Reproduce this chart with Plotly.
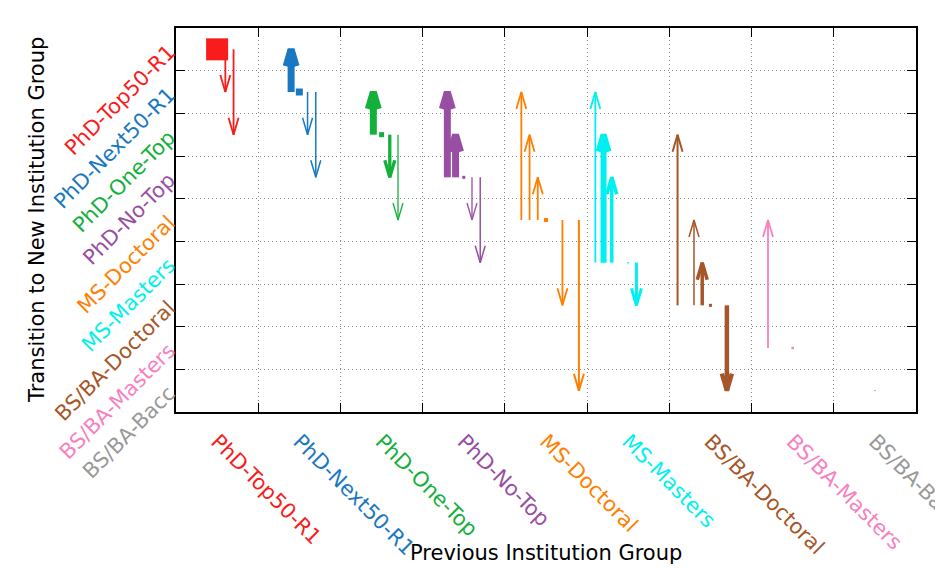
import plotly.graph_objects as go

# ---------------- data ----------------
groups = ["PhD-Top50-R1", "PhD-Next50-R1", "PhD-One-Top", "PhD-No-Top",
          "MS-Doctoral", "MS-Masters", "BS/BA-Doctoral", "BS/BA-Masters", "BS/BA-Bacc"]
group_colors = ["#f81c1c", "#1a78c2", "#14b03c", "#984ea3", "#ff7f00",
                "#00f0f0", "#a65628", "#f781bf", "#999999"]

# transitions: previous group (1-based), new group (1-based), relative flow
prev_group = [1, 1, 1,
              2, 2, 2, 2,
              3, 3, 3, 3,
              4, 4, 4, 4, 4,
              5, 5, 5, 5, 5, 5,
              6, 6, 6, 6, 6,
              7, 7, 7, 7, 7,
              8, 8,
              9]
new_group = [1, 2, 3,
             1, 2, 3, 4,
             2, 3, 4, 5,
             2, 3, 4, 5, 6,
             2, 3, 4, 5, 7, 9,
             2, 3, 4, 6, 7,
             3, 5, 6, 7, 9,
             5, 8,
             9]
flow = [220, 18, 18,
        70, 70, 15, 15,
        70, 50, 33, 13,
        70, 70, 30, 13, 15,
        18, 18, 18, 40, 18, 20,
        18, 60, 35, 15, 30,
        20, 15, 35, 30, 45,
        18, 25,
        12]

# ---------------- layout geometry ----------------
PAGE_OFF = 8  # default body margin of the html page
W, H = 943 - PAGE_OFF, 568 - PAGE_OFF
ML, MT = 176 - PAGE_OFF, 28 - PAGE_OFF
MR, MB = 27, 156
n = len(groups)
plot_w = W - ML - MR
plot_h = H - MT - MB
px_x = plot_w / n
px_y = plot_h / n
head_len = 17 / px_y
head_half = 5 / px_x
offset_step = 0.1

fig = go.Figure()

for i, j, f in zip(prev_group, new_group, flow):
    color = group_colors[i - 1]
    w = f / 10.0
    x = i + (j - i) * offset_step
    if i == j:
        fig.add_trace(go.Scatter(
            x=[x], y=[i], mode="markers",
            marker=dict(symbol="square", size=w, color=color, line=dict(width=0)),
            hoverinfo="skip", showlegend=False))
        continue
    s = 1 if j > i else -1
    xs = [x, x, None, x - head_half, x, x + head_half]
    ys = [i, j, None, j - s * head_len, j, j - s * head_len]
    fig.add_trace(go.Scatter(
        x=xs, y=ys, mode="lines",
        line=dict(color=color, width=w),
        hoverinfo="skip", showlegend=False))

# dummy trace for label axes
fig.add_trace(go.Scatter(x=[1], y=[1], xaxis="x2", yaxis="y2", mode="markers",
                         marker=dict(opacity=0), hoverinfo="skip", showlegend=False))

boundaries = [k + 0.5 for k in range(1, n)]
centers = list(range(1, n + 1))
colored = [f'<span style="color:{c}">{g}</span>' for g, c in zip(groups, group_colors)]

font_family = "DejaVu Sans"
label_size = 21
common = dict(showline=True, linecolor="black", linewidth=1.5, mirror="ticks",
              ticks="inside", ticklen=9, tickwidth=1.3, tickcolor="black",
              showgrid=True, gridcolor="#888888", gridwidth=1, griddash="1px,3px",
              zeroline=False, automargin=False, tickvals=boundaries,
              ticktext=[""] * len(boundaries))

fig.update_layout(
    width=W, height=H,
    margin=dict(l=ML, r=MR, t=MT, b=MB, pad=0),
    paper_bgcolor="white", plot_bgcolor="white",
    font=dict(family=font_family, size=label_size, color="black"),
    xaxis=dict(range=[0.5, n + 0.5], **common),
    yaxis=dict(range=[n + 0.5, 0.5], **common),
    xaxis2=dict(range=[0.5, n + 0.5], overlaying="x", anchor="y2", side="bottom",
                tickvals=centers, ticktext=colored, tickangle=45, ticks="",
                showline=False, showgrid=False, zeroline=False, automargin=False,
                ticklabeloverflow="allow",
                ticklabelstandoff=12, tickfont=dict(size=label_size, family=font_family)),
    yaxis2=dict(range=[n + 0.5, 0.5], overlaying="y", anchor="x2", side="left",
                tickvals=centers, ticktext=colored, tickangle=-45, ticks="",
                showline=False, showgrid=False, zeroline=False, automargin=False,
                ticklabeloverflow="allow",
                ticklabelstandoff=6, tickfont=dict(size=label_size, family=font_family)),
    annotations=[
        dict(text="Previous Institution Group", xref="paper", yref="paper",
             x=0.5, y=-(553 - PAGE_OFF - (H - MB)) / plot_h,
             xanchor="center", yanchor="middle",
             showarrow=False, font=dict(size=21, family=font_family, color="black")),
        dict(text="Transition to New Institution Group", xref="paper", yref="paper",
             x=(37 - PAGE_OFF - ML) / plot_w, y=0.5, xanchor="center", yanchor="middle",
             textangle=-90, showarrow=False,
             font=dict(size=21, family=font_family, color="black")),
    ],
)

fig.write_html("out.html")
